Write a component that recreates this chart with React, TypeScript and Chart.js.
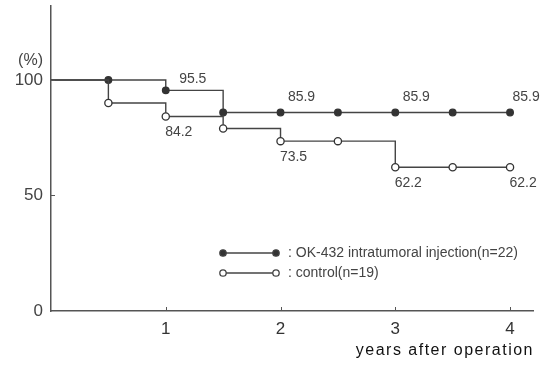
import React, { useEffect, useRef } from "react";
import { Chart, registerables } from "chart.js";

Chart.register(...registerables);

// ---- data ----
const years = [0, 0.5, 1, 1.5, 2, 2.5, 3, 3.5, 4];
const okSurvival = [100, 100, 95.5, 85.9, 85.9, 85.9, 85.9, 85.9, 85.9];
const controlSurvival = [100, 90, 84.2, 79, 73.5, 73.5, 62.2, 62.2, 62.2];
const okLabelYears = [1, 2, 3, 4];
const controlLabelYears = [1, 2, 3, 4];
const xTickValues = [1, 2, 3, 4];
const yTickValues = [0, 50, 100];
const seriesNames = [": OK-432 intratumoral injection(n=22)", ": control(n=19)"];
const xTitle = "years after operation";
const yUnit = "(%)";

const SANS = "'Liberation Sans', Arial, sans-serif";

const toPoints = (vals: number[]) => years.map((x, i) => ({ x, y: vals[i] }));

const overlay = {
  id: "overlay",
  afterDatasetsDraw(chart: any) {
    const { ctx, scales } = chart;
    const xs = scales.x;
    const ys = scales.y;
    const left = chart.chartArea.left;
    const bottom = chart.chartArea.bottom;
    ctx.save();
    // inward ticks
    ctx.strokeStyle = "#555";
    ctx.lineWidth = 1;
    yTickValues.forEach((v) => {
      if (v === 0) return;
      const py = Math.round(ys.getPixelForValue(v)) + 0.5;
      ctx.beginPath();
      ctx.moveTo(left, py);
      ctx.lineTo(left + 4, py);
      ctx.stroke();
    });
    xTickValues.forEach((v) => {
      const px = Math.round(xs.getPixelForValue(v)) + 0.5;
      ctx.beginPath();
      ctx.moveTo(px, bottom);
      ctx.lineTo(px, bottom - 4);
      ctx.stroke();
    });

    // value labels
    ctx.fillStyle = "#444";
    ctx.font = `14px ${SANS}`;
    ctx.textAlign = "center";
    ctx.textBaseline = "middle";
    okLabelYears.forEach((yr) => {
      const i = years.indexOf(yr);
      const v = okSurvival[i];
      const px = xs.getPixelForValue(yr) + (yr === 1 ? 27 : yr === 4 ? 16 : 21);
      const py = ys.getPixelForValue(v) - (yr === 1 ? 11 : 15);
      ctx.fillText(v.toFixed(1), px, py);
    });
    controlLabelYears.forEach((yr) => {
      const i = years.indexOf(yr);
      const v = controlSurvival[i];
      const px = xs.getPixelForValue(yr) + 13;
      const py = ys.getPixelForValue(v) + 16;
      ctx.fillText(v.toFixed(1), px, py);
    });

    // y unit
    ctx.font = `16px ${SANS}`;
    ctx.textAlign = "right";
    ctx.fillStyle = "#444";
    ctx.fillText(yUnit, 43, ys.getPixelForValue(100) - 19);

    // legend
    const lx1 = 223;
    const lx2 = 276;
    const rows = [253, 273];
    rows.forEach((ry, k) => {
      ctx.strokeStyle = "#444";
      ctx.lineWidth = 1.3;
      ctx.beginPath();
      ctx.moveTo(lx1, ry);
      ctx.lineTo(lx2, ry);
      ctx.stroke();
      [lx1, lx2].forEach((cx) => {
        ctx.beginPath();
        ctx.arc(cx, ry, 3.2, 0, Math.PI * 2);
        ctx.fillStyle = k === 0 ? "#333" : "#fff";
        ctx.fill();
        ctx.lineWidth = 1.3;
        ctx.stroke();
      });
      ctx.fillStyle = "#444";
      ctx.font = `14px ${SANS}`;
      ctx.textAlign = "left";
      ctx.textBaseline = "middle";
      ctx.fillText(seriesNames[k], 288, ry);
    });

    // x title (letter-spaced, drawn last)
    ctx.font = `16px ${SANS}`;
    ctx.fillStyle = "#111";
    ctx.textAlign = "right";
    ctx.textBaseline = "middle";
    (ctx as any).letterSpacing = "1.5px";
    ctx.fillText(xTitle, chart.chartArea.right + 1, 351);
    (ctx as any).letterSpacing = "0px";
    ctx.restore();
  },
};

export default function App() {
  const ref = useRef<HTMLCanvasElement | null>(null);
  useEffect(() => {
    if (!ref.current) return;
    const mk = (vals: number[], filled: boolean, label: string) => ({
      label,
      data: toPoints(vals),
      stepped: "before" as const,
      borderColor: "#444",
      borderWidth: 1.4,
      pointRadius: (c: any) => (c.dataIndex === 0 ? 0 : filled ? 3.3 : 3.6),
      pointBorderWidth: 1.3,
      pointBackgroundColor: filled ? "#333" : "#fff",
      pointBorderColor: "#333",
      fill: false,
      order: filled ? 1 : 0,
    });
    const chart = new Chart(ref.current, {
      type: "line",
      data: {
        datasets: [mk(okSurvival, true, seriesNames[0]), mk(controlSurvival, false, seriesNames[1])],
      },
      plugins: [overlay],
      options: {
        animation: false,
        responsive: false,
        devicePixelRatio: 1,
        layout: { padding: { top: 6, right: 15, left: 0, bottom: 0 } },
        plugins: { legend: { display: false }, tooltip: { enabled: false } },
        scales: {
          x: {
            type: "linear",
            min: 0,
            max: 4.2,
            afterBuildTicks: (s: any) => {
              s.ticks = xTickValues.map((v) => ({ value: v }));
            },
            afterFit: (s: any) => {
              s.height = 65;
              s.paddingLeft = 0;
              s.paddingRight = 0;
            },
            grid: { display: false, drawTicks: false },
            border: { display: true, color: "#555", width: 1.5 },
            ticks: {
              padding: 8,
              color: "#333",
              font: { family: SANS, size: 17 },
              callback: (v: any) => String(v),
            },
          },
          y: {
            type: "linear",
            min: 0,
            max: 132,
            afterBuildTicks: (s: any) => {
              s.ticks = yTickValues.map((v) => ({ value: v }));
            },
            afterFit: (s: any) => {
              s.width = 51;
              s.paddingTop = 0;
              s.paddingBottom = 0;
            },
            grid: { display: false, drawTicks: false },
            border: { display: true, color: "#555", width: 1.5 },
            ticks: {
              padding: 8,
              color: "#444",
              font: { family: SANS, size: 17 },
              callback: (v: any) => String(v),
            },
          },
        },
      } as any,
    });
    return () => chart.destroy();
  }, []);
  return (
    <div style={{ position: "absolute", left: 0, top: 0, width: 548, height: 376, background: "#fff" }}>
      <canvas ref={ref} width={548} height={376} style={{ width: 548, height: 376 }} />
    </div>
  );
}
